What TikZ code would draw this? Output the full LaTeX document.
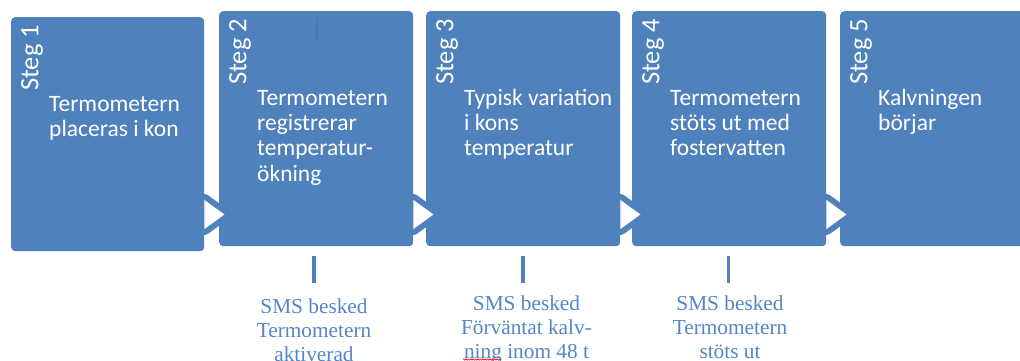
\documentclass[tikz,border=0pt]{standalone}
\usepackage{fontspec}
\newfontfamily\boxfont{Carlito}
\newfontfamily\notefont{Liberation Serif}
\usetikzlibrary{calc,decorations.pathmorphing}
\definecolor{stepblue}{RGB}{79,129,189}
\definecolor{noteblue}{RGB}{84,134,196}
\definecolor{seamblue}{RGB}{72,120,180}
% one centred line of a stacked label
\newcommand\ctrline[1]{\hbox to 0pt{\hss#1\hss}}
\tikzset{
  stepbox/.style={fill=stepblue, rounded corners=4pt, anchor=north west,
    inner sep=0pt, minimum height=235pt, minimum width=194pt},
  steglabel/.style={rotate=90, anchor=north west, inner sep=0pt, text=white,
    font=\boxfont\fontsize{26.5}{30}\selectfont},
  stepbody/.style={anchor=base west, inner sep=0pt, text=white,
    font=\boxfont\fontsize{23.5}{25.5}\selectfont},
  notetext/.style={anchor=base, inner sep=0pt, text=noteblue,
    font=\notefont\fontsize{21.3}{24.3}\selectfont},
  tickline/.style={draw=stepblue, line width=3.5pt},
}
\begin{document}
\begin{tikzpicture}[x=1pt,y=-1pt]
\useasboundingbox (0,0) rectangle (1020,361);

% the five step boxes
\node[stepbox, minimum height=234pt, minimum width=193pt] (b1) at (11,17) {};
\node[stepbox] (b2) at (219,11) {};
\node[stepbox] (b3) at (426,11) {};
\node[stepbox] (b4) at (632,11) {};
\node[stepbox, minimum width=200pt] (b5) at (840,11) {};

% faint seam near the top of the second box
\draw[seamblue, line width=1.2pt] (317,17) -- (317,42);

% white arrow heads with a blue rim between neighbouring boxes
\foreach \a in {b1,b2,b3,b4}{
  \path[fill=stepblue, draw=stepblue, line width=12pt, line join=round]
    let \p1=(\a.east) in (\x1,-200pt) -- (\x1,-229pt) -- (\x1+20pt,-214.5pt) -- cycle;
  \fill[white]
    let \p1=(\a.east) in (\x1,-200pt) -- (\x1,-229pt) -- (\x1+20pt,-214.5pt) -- cycle;
}

% rotated step titles
\node[steglabel] (s1) at (21,91) {Steg 1};
\node[steglabel] (s2) at (229,85) {Steg 2};
\node[steglabel] (s3) at (436,85) {Steg 3};
\node[steglabel] (s4) at (642,85) {Steg 4};
\node[steglabel] (s5) at (850,85) {Steg 5};

% step descriptions
\node[stepbody] (t1) at (49,111) {\vtop{\hbox{Termometern}\hbox{placeras i kon}}};
\node[stepbody] (t2) at (257,105) {\vtop{\hbox{Termometern}\hbox{registrerar}\hbox{temperatur-}\hbox{ökning}}};
\node[stepbody] (t3) at (464,105) {\vtop{\hbox{Typisk variation}\hbox{i kons}\hbox{temperatur}}};
\node[stepbody] (t4) at (670,105) {\vtop{\hbox{Termometern}\hbox{stöts ut med}\hbox{fostervatten}}};
\node[stepbody] (t5) at (878,105) {\vtop{\hbox{Kalvningen}\hbox{börjar}}};

% short ticks below steps 2, 3 and 4
\coordinate (k2a) at (314,256); \coordinate (k2b) at (314,283);
\coordinate (k3a) at (523,256); \coordinate (k3b) at (523,283);
\coordinate (k4a) at (728.5,256); \coordinate (k4b) at (728.5,283);
\draw[tickline] (k2a) -- (k2b);
\draw[tickline] (k3a) -- (k3b);
\draw[tickline] (k4a) -- (k4b);

% SMS notes
\node[notetext] (n2) at (314,313) {\vtop{\ctrline{SMS besked}\ctrline{Termometern}\ctrline{aktiverad}}};
\node[notetext] (n3) at (526.5,310) {\vtop{\ctrline{SMS besked}\ctrline{Förväntat kalv-}\ctrline{ning inom 48 t}}};
\node[notetext] (n4) at (730,310) {\vtop{\ctrline{SMS besked}\ctrline{Termometern}\ctrline{stöts ut}}};

% spelling mark under "ning"
\coordinate (w1) at (463,359.5); \coordinate (w2) at (500,359.5);
\draw[red, line width=0.6pt, decorate,
  decoration={zigzag, amplitude=0.7pt, segment length=2.4pt}] (w1) -- (w2);
\end{tikzpicture}
\end{document}
